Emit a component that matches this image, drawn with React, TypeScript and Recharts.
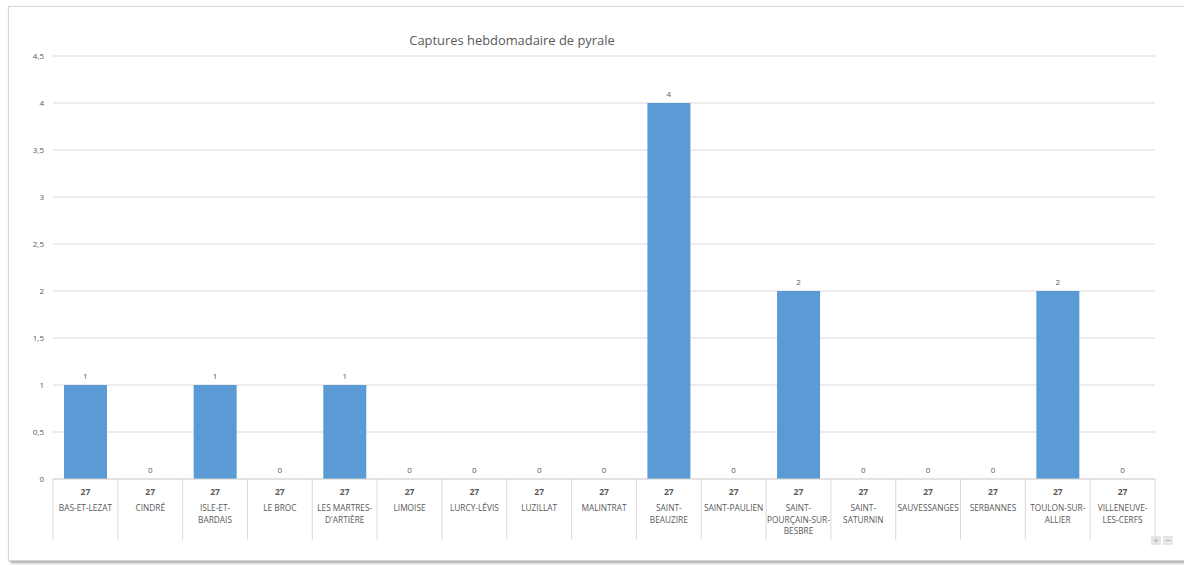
import { ComposedChart, Bar, Line, XAxis, YAxis, CartesianGrid, LabelList } from "recharts";

const communes = [
  "BAS-ET-LEZAT",
  "CINDRÉ",
  "ISLE-ET-BARDAIS",
  "LE BROC",
  "LES MARTRES-D'ARTIÈRE",
  "LIMOISE",
  "LURCY-LÉVIS",
  "LUZILLAT",
  "MALINTRAT",
  "SAINT-BEAUZIRE",
  "SAINT-PAULIEN",
  "SAINT-POURÇAIN-SUR-BESBRE",
  "SAINT-SATURNIN",
  "SAUVESSANGES",
  "SERBANNES",
  "TOULON-SUR-ALLIER",
  "VILLENEUVE-LES-CERFS",
];
const week = "27";
const captures = [1, 0, 1, 0, 1, 0, 0, 0, 0, 4, 0, 2, 0, 0, 0, 2, 0];
const yTicks = [0, 0.5, 1, 1.5, 2, 2.5, 3, 3.5, 4, 4.5];

const W = 1184;
const H = 565;
const Y_WIDTH = 53;
const X_HEIGHT = 70;
const MARGIN = { top: 56, right: 29, bottom: 16, left: 0 };
const PLOT_W = W - MARGIN.left - MARGIN.right - Y_WIDTH;
const CELL = PLOT_W / communes.length;
const FONT = "'Open Sans', 'Noto Sans', sans-serif";
const GREY = "#595959";
const GRID = "#d9d9d9";

const data = communes.map((name, i) => ({ name, value: captures[i] }));

// greedy wrap after hyphens / spaces, like Excel does in narrow category cells
function wrapLabel(s: string, max = 13): string[] {
  const tokens = s.match(/[^-\s]+[-\s]?/g) ?? [s];
  const lines: string[] = [];
  let cur = "";
  for (const t of tokens) {
    if (cur && (cur + t).trimEnd().length > max) {
      lines.push(cur.trimEnd());
      cur = t;
    } else {
      cur += t;
    }
  }
  if (cur) lines.push(cur.trimEnd());
  return lines;
}

function CategoryTick(props: any) {
  const { x, y, payload, index } = props;
  const half = CELL / 2;
  const lines = wrapLabel(String(payload.value));
  return (
    <g>
      <line x1={x - half} x2={x - half} y1={y} y2={y + 61} stroke={GRID} />
      {index === communes.length - 1 && (
        <line x1={x + half} x2={x + half} y1={y} y2={y + 61} stroke={GRID} />
      )}
      <text x={x} y={y + 16} textAnchor="middle" fontSize={8.5} fontWeight={700} fill={GREY} fontFamily={FONT}>
        {week}
      </text>
      <text x={x} y={y + 32} textAnchor="middle" fontSize={8.3} fill={GREY} fontFamily={FONT}>
        {lines.map((l, i) => (
          <tspan key={i} x={x} dy={i === 0 ? 0 : 11.5}>
            {l}
          </tspan>
        ))}
      </text>
    </g>
  );
}

export default function App() {
  return (
    <div style={{ position: "absolute", left: 0, top: 0, width: W, height: H, background: "#fff", overflow: "hidden" }}>
      <div
        style={{
          position: "absolute",
          left: 8,
          top: 6,
          width: 1180,
          height: 553,
          border: "1px solid #d6d6d6",
          boxShadow: "2px 2px 3px rgba(0,0,0,0.35)",
          background: "#fff",
        }}
      />
      <div
        style={{
          position: "absolute",
          left: 0,
          width: 1024,
          top: 31,
          textAlign: "center",
          fontFamily: FONT,
          fontSize: 12.9,
          color: GREY,
        }}
      >
        Captures hebdomadaire de pyrale
      </div>
      <div style={{ position: "absolute", left: 0, top: 0 }}>
        <ComposedChart width={W} height={H} data={data} margin={MARGIN}>
          <CartesianGrid vertical={false} stroke={GRID} />
          <XAxis
            dataKey="name"
            height={X_HEIGHT}
            interval={0}
            tickLine={false}
            tickSize={0}
            tickMargin={0}
            axisLine={{ stroke: GRID }}
            tick={<CategoryTick />}
          />
          <YAxis
            width={Y_WIDTH}
            domain={[0, 4.5]}
            ticks={yTicks}
            axisLine={false}
            tickLine={false}
            tickSize={0}
            tickMargin={9}
            tick={{ fontSize: 8, fill: GREY, fontFamily: FONT }}
            tickFormatter={(v: number) => String(v).replace(".", ",")}
          />
          <Bar dataKey="value" fill="#5b9bd5" barSize={43} isAnimationActive={false} />
          {/* invisible series that carries the data labels, so the zeros get one too */}
          <Line
            dataKey="value"
            stroke="none"
            dot={false}
            activeDot={false}
            legendType="none"
            isAnimationActive={false}
          >
            <LabelList
              dataKey="value"
              position="top"
              offset={6}
              fontSize={8}
              fill={GREY}
              stroke="none"
              fontFamily={FONT}
            />
          </Line>
        </ComposedChart>
      </div>
      <div style={{ position: "absolute", left: 1151, top: 536, display: "flex", gap: 2 }}>
        {["+", "−"].map((s) => (
          <div
            key={s}
            style={{
              width: 10,
              height: 9,
              background: "#e6e6e6",
              color: "#9a9a9a",
              fontSize: 9,
              lineHeight: "9px",
              textAlign: "center",
              fontFamily: FONT,
            }}
          >
            {s}
          </div>
        ))}
      </div>
    </div>
  );
}
